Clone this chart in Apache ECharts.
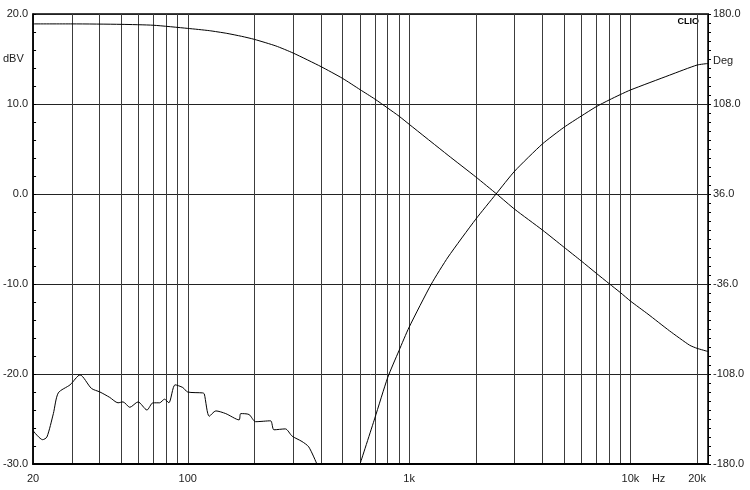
<!DOCTYPE html>
<html>
<head>
<meta charset="utf-8">
<script src="https://cdn.jsdelivr.net/npm/echarts@6/dist/echarts.min.js"></script>
<style>
html,body{margin:0;padding:0;background:#fff;}
#chart{width:750px;height:490px;}
</style>
</head>
<body>
<div id="chart"></div>
<script>
// Low-pass response (dBV)
const lpFreq = [20,30,50,70,100,125,150,175,200,250,300,400,500,600,700,800,900,1000,1500,2000,2500,3000,4000,5000,6000,7000,8000,9000,10000,12000,15000,18500,20000,22400];
const lpDb   = [18.9,18.9,18.85,18.75,18.4,18.15,17.85,17.52,17.18,16.45,15.65,14.15,12.85,11.6,10.55,9.55,8.65,7.75,4.3,1.9,-0.05,-1.7,-4.0,-5.9,-7.45,-8.8,-9.95,-10.95,-11.9,-13.35,-15.2,-16.8,-17.15,-17.5];
// High-pass response (dBV)
const hpFreq = [600,700,800,900,1000,1260,1500,2000,2470,3000,4000,5000,6000,7000,8000,9000,10000,15000,20000,22400];
const hpDb   = [-30,-24.9,-20.4,-17.4,-14.8,-10.0,-7.0,-2.8,0,2.55,5.56,7.4,8.67,9.7,10.44,11.05,11.56,13.2,14.33,14.5];
// Low-level residual (dBV)
const nzFreq = [20,22.1,23.1,24.7,26.0,29.4,32.6,36.7,40.1,44.4,48.4,51.0,54.7,59.6,65.4,69.6,74.6,78.5,82.1,87.6,94.9,99.9,116.7,118.7,125,133.9,148.4,170.5,173.4,189.1,202.5,236.5,245,276,296,328,352,383];
const nzDb   = [-26.3,-27.3,-27.0,-24.4,-22.1,-21.2,-20.1,-21.6,-22.0,-22.6,-23.2,-23.1,-23.7,-23.1,-24.0,-23.2,-23.2,-22.8,-23.2,-21.2,-21.5,-22.0,-22.1,-22.2,-24.7,-24.1,-24.4,-25.1,-24.4,-24.5,-25.3,-25.2,-26.2,-26.1,-26.9,-27.5,-28.1,-30];

// Axis ticks
const xGridTicks = [30,40,50,60,70,80,90,100,200,300,400,500,600,700,800,900,1000,2000,3000,4000,5000,6000,7000,8000,9000,10000,20000];
const xLabelTicks = [20,100,1000,10000,13400,20000];
const xLabelText = ['20','100','1k','10k','Hz','20k'];
const xMin = 20, xMax = 22400;
const yLeftMin = -30, yLeftMax = 20, yLeftStep = 10;
const yRightMin = -180, yRightMax = 180, yRightStep = 72;

function pairs(f, v){ return f.map((x,i)=>[x, v[i]]); }

const chart = echarts.init(document.getElementById('chart'), null, {renderer:'canvas'});
const font = 'Liberation Sans, Arial, sans-serif';
const lineCommon = {type:'line', yAxisIndex:0, showSymbol:false, clip:true, lineStyle:{color:'#000', width:1}};
chart.setOption({
  animation:false,
  backgroundColor:'#fff',
  grid:{left:30, right:42, top:14, bottom:26, show:true, borderColor:'#000', borderWidth:1.5, containLabel:false},
  xAxis:{
    type:'log', logBase:10, min:xMin, max:xMax,
    axisLine:{show:true, onZero:false, lineStyle:{color:'#000', width:2}},
    axisTick:{show:false, customValues:xGridTicks},
    splitLine:{show:true, lineStyle:{color:'#3c3c3c', width:1}},
    axisLabel:{
      customValues:xLabelTicks, margin:9, color:'#222', fontSize:11, fontFamily:font,
      formatter:function(v){ const i = xLabelTicks.findIndex(t=>Math.abs(t-v)<1e-6*t); return i>=0?xLabelText[i]:''; }
    }
  },
  yAxis:[{
    type:'value', min:yLeftMin, max:yLeftMax, interval:yLeftStep, position:'left',
    axisLine:{show:true, lineStyle:{color:'#000', width:1.5}},
    axisTick:{show:true, inside:true, length:3, lineStyle:{color:'#000'}},
    minorTick:{show:true, splitNumber:5, length:3, lineStyle:{color:'#000'}},
    splitLine:{show:true, lineStyle:{color:'#222', width:1}},
    axisLabel:{margin:5, color:'#222', fontSize:11, fontFamily:font, formatter:v=>v.toFixed(1)}
  },{
    type:'value', min:yRightMin, max:yRightMax, interval:yRightStep, position:'right',
    axisLine:{show:true, lineStyle:{color:'#000', width:1}},
    axisTick:{show:true, inside:false, length:3, lineStyle:{color:'#000'}},
    minorTick:{show:true, splitNumber:10, length:3, lineStyle:{color:'#000'}},
    splitLine:{show:false},
    axisLabel:{margin:5, color:'#222', fontSize:11, fontFamily:font, formatter:v=>v.toFixed(1)}
  }],
  graphic:[
    {type:'text', left:3, top:53, style:{text:'dBV', fill:'#222', font:'11px '+font}},
    {type:'text', left:713, top:55, style:{text:'Deg', fill:'#222', font:'11px '+font}},
    {type:'text', right:51, top:17, style:{text:'CLIO', fill:'#000', font:'bold 9px '+font}}
  ],
  series:[
    Object.assign({name:'Low-pass', data:pairs(lpFreq,lpDb), smooth:0.2}, lineCommon),
    Object.assign({name:'High-pass', data:pairs(hpFreq,hpDb), smooth:0.2}, lineCommon),
    Object.assign({name:'Residual', data:pairs(nzFreq,nzDb), smooth:0.25}, lineCommon)
  ]
});
</script>
</body>
</html>
